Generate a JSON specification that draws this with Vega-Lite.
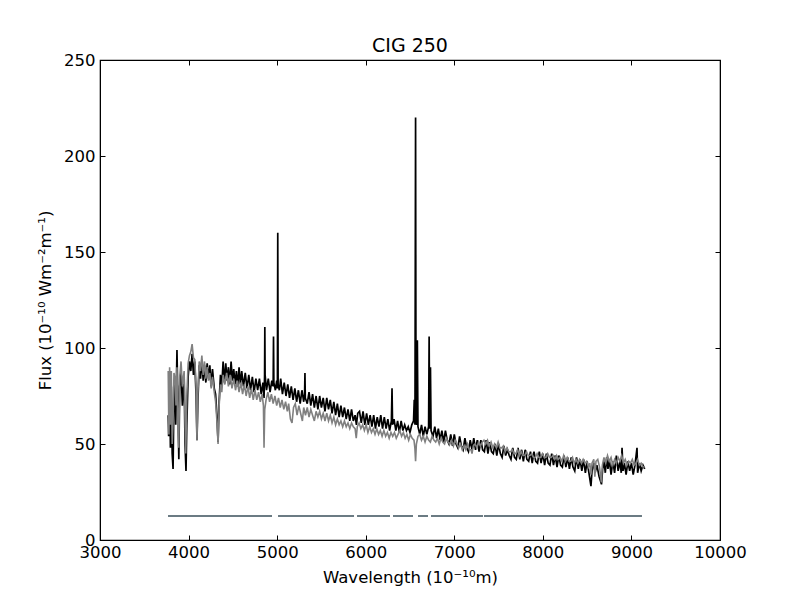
{
  "$schema": "https://vega.github.io/schema/vega-lite/v6.json",
  "width": 620,
  "height": 480,
  "autosize": {"type": "none"},
  "padding": {"left": 100, "top": 60, "right": 80, "bottom": 60},
  "background": "white",
  "title": {
    "text": "CIG 250",
    "fontSize": 19,
    "fontWeight": "normal",
    "font": "DejaVu Sans",
    "color": "black",
    "anchor": "middle",
    "offset": -4
  },
  "config": {
    "font": "DejaVu Sans",
    "view": {"stroke": "black", "strokeWidth": 1.2},
    "axis": {
      "grid": false,
      "domainColor": "black",
      "tickColor": "black",
      "labelColor": "black",
      "titleColor": "black",
      "labelFont": "DejaVu Sans",
      "titleFont": "DejaVu Sans",
      "labelFontSize": 16.5,
      "titleFontSize": 16.5,
      "titleFontWeight": "normal",
      "tickSize": -5,
      "labelFlush": false,
      "labelOverlap": false
    }
  },
  "datasets": {
    "black": [
      {"w": 3770, "f": 65}, {"w": 3775, "f": 54}, {"w": 3785, "f": 88}, {"w": 3795, "f": 48},
      {"w": 3805, "f": 80}, {"w": 3815, "f": 45}, {"w": 3825, "f": 37}, {"w": 3835, "f": 75},
      {"w": 3845, "f": 85}, {"w": 3855, "f": 60}, {"w": 3869, "f": 99}, {"w": 3880, "f": 70},
      {"w": 3890, "f": 42}, {"w": 3900, "f": 80}, {"w": 3915, "f": 88}, {"w": 3930, "f": 70},
      {"w": 3950, "f": 85}, {"w": 3960, "f": 50}, {"w": 3971, "f": 36}, {"w": 3980, "f": 60},
      {"w": 3995, "f": 85}, {"w": 4010, "f": 93}, {"w": 4025, "f": 88}, {"w": 4040, "f": 97},
      {"w": 4055, "f": 86}, {"w": 4070, "f": 93}, {"w": 4085, "f": 75}, {"w": 4095, "f": 52},
      {"w": 4105, "f": 72}, {"w": 4120, "f": 91}, {"w": 4135, "f": 84}, {"w": 4150, "f": 94},
      {"w": 4165, "f": 83}, {"w": 4180, "f": 91}, {"w": 4195, "f": 82}, {"w": 4210, "f": 92},
      {"w": 4225, "f": 84}, {"w": 4240, "f": 91}, {"w": 4255, "f": 80}, {"w": 4270, "f": 89},
      {"w": 4290, "f": 79}, {"w": 4305, "f": 76}, {"w": 4320, "f": 65}, {"w": 4333, "f": 51},
      {"w": 4345, "f": 72}, {"w": 4360, "f": 86}, {"w": 4375, "f": 80}, {"w": 4390, "f": 93},
      {"w": 4405, "f": 82}, {"w": 4420, "f": 92}, {"w": 4435, "f": 83}, {"w": 4450, "f": 90},
      {"w": 4465, "f": 81}, {"w": 4480, "f": 93}, {"w": 4495, "f": 83}, {"w": 4510, "f": 89},
      {"w": 4525, "f": 81}, {"w": 4540, "f": 88}, {"w": 4555, "f": 80}, {"w": 4570, "f": 90},
      {"w": 4585, "f": 81}, {"w": 4600, "f": 88}, {"w": 4620, "f": 80}, {"w": 4640, "f": 87},
      {"w": 4660, "f": 79}, {"w": 4680, "f": 86}, {"w": 4700, "f": 78}, {"w": 4720, "f": 85},
      {"w": 4740, "f": 77}, {"w": 4760, "f": 84}, {"w": 4780, "f": 78}, {"w": 4800, "f": 84},
      {"w": 4820, "f": 76}, {"w": 4840, "f": 82}, {"w": 4852, "f": 74}, {"w": 4858, "f": 85},
      {"w": 4861, "f": 111}, {"w": 4864, "f": 86}, {"w": 4880, "f": 78}, {"w": 4900, "f": 84},
      {"w": 4920, "f": 77}, {"w": 4940, "f": 83}, {"w": 4955, "f": 80}, {"w": 4959, "f": 106},
      {"w": 4963, "f": 82}, {"w": 4980, "f": 78}, {"w": 4995, "f": 83}, {"w": 5003, "f": 79},
      {"w": 5007, "f": 160}, {"w": 5011, "f": 81}, {"w": 5025, "f": 78}, {"w": 5040, "f": 84},
      {"w": 5060, "f": 76}, {"w": 5080, "f": 82}, {"w": 5100, "f": 75}, {"w": 5120, "f": 81},
      {"w": 5140, "f": 74}, {"w": 5160, "f": 80}, {"w": 5180, "f": 73}, {"w": 5200, "f": 79},
      {"w": 5220, "f": 72}, {"w": 5240, "f": 78}, {"w": 5260, "f": 71}, {"w": 5280, "f": 78},
      {"w": 5300, "f": 72}, {"w": 5310, "f": 76}, {"w": 5314, "f": 87}, {"w": 5318, "f": 74},
      {"w": 5340, "f": 71}, {"w": 5360, "f": 77}, {"w": 5380, "f": 70}, {"w": 5400, "f": 76},
      {"w": 5420, "f": 69}, {"w": 5440, "f": 75}, {"w": 5460, "f": 68}, {"w": 5480, "f": 75},
      {"w": 5500, "f": 69}, {"w": 5520, "f": 74}, {"w": 5540, "f": 67}, {"w": 5560, "f": 74},
      {"w": 5580, "f": 68}, {"w": 5600, "f": 73}, {"w": 5620, "f": 66}, {"w": 5640, "f": 72},
      {"w": 5660, "f": 65}, {"w": 5680, "f": 71}, {"w": 5700, "f": 64}, {"w": 5720, "f": 70},
      {"w": 5740, "f": 64}, {"w": 5760, "f": 69}, {"w": 5780, "f": 63}, {"w": 5800, "f": 68},
      {"w": 5820, "f": 62}, {"w": 5840, "f": 68}, {"w": 5860, "f": 62}, {"w": 5880, "f": 65},
      {"w": 5895, "f": 60}, {"w": 5910, "f": 66}, {"w": 5930, "f": 67}, {"w": 5950, "f": 61},
      {"w": 5970, "f": 67}, {"w": 5990, "f": 60}, {"w": 6010, "f": 66}, {"w": 6030, "f": 60},
      {"w": 6050, "f": 65}, {"w": 6070, "f": 59}, {"w": 6090, "f": 65}, {"w": 6110, "f": 58},
      {"w": 6130, "f": 64}, {"w": 6150, "f": 59}, {"w": 6170, "f": 65}, {"w": 6190, "f": 58},
      {"w": 6210, "f": 64}, {"w": 6230, "f": 58}, {"w": 6250, "f": 63}, {"w": 6270, "f": 57},
      {"w": 6290, "f": 62}, {"w": 6297, "f": 79}, {"w": 6303, "f": 60}, {"w": 6320, "f": 63},
      {"w": 6340, "f": 57}, {"w": 6360, "f": 62}, {"w": 6380, "f": 56}, {"w": 6400, "f": 62},
      {"w": 6420, "f": 57}, {"w": 6440, "f": 60}, {"w": 6460, "f": 57}, {"w": 6480, "f": 59},
      {"w": 6500, "f": 56}, {"w": 6520, "f": 60}, {"w": 6540, "f": 62}, {"w": 6548, "f": 73},
      {"w": 6556, "f": 60}, {"w": 6563, "f": 220}, {"w": 6568, "f": 62}, {"w": 6575, "f": 60},
      {"w": 6583, "f": 104}, {"w": 6590, "f": 59}, {"w": 6610, "f": 55}, {"w": 6630, "f": 60},
      {"w": 6650, "f": 54}, {"w": 6670, "f": 59}, {"w": 6690, "f": 55}, {"w": 6710, "f": 59},
      {"w": 6716, "f": 106}, {"w": 6722, "f": 58}, {"w": 6731, "f": 90}, {"w": 6738, "f": 57},
      {"w": 6760, "f": 54}, {"w": 6780, "f": 59}, {"w": 6800, "f": 53}, {"w": 6820, "f": 58},
      {"w": 6840, "f": 52}, {"w": 6860, "f": 57}, {"w": 6880, "f": 51}, {"w": 6900, "f": 57},
      {"w": 6920, "f": 52}, {"w": 6940, "f": 50}, {"w": 6960, "f": 55}, {"w": 6980, "f": 49},
      {"w": 7000, "f": 55}, {"w": 7020, "f": 50}, {"w": 7040, "f": 48}, {"w": 7060, "f": 54},
      {"w": 7080, "f": 49}, {"w": 7100, "f": 47}, {"w": 7120, "f": 53}, {"w": 7140, "f": 48},
      {"w": 7160, "f": 46}, {"w": 7180, "f": 52}, {"w": 7200, "f": 47}, {"w": 7220, "f": 53},
      {"w": 7240, "f": 47}, {"w": 7260, "f": 52}, {"w": 7280, "f": 46}, {"w": 7300, "f": 52},
      {"w": 7320, "f": 47}, {"w": 7340, "f": 46}, {"w": 7360, "f": 52}, {"w": 7380, "f": 45},
      {"w": 7400, "f": 51}, {"w": 7420, "f": 46}, {"w": 7440, "f": 45}, {"w": 7460, "f": 50},
      {"w": 7480, "f": 44}, {"w": 7500, "f": 50}, {"w": 7520, "f": 45}, {"w": 7540, "f": 43},
      {"w": 7560, "f": 49}, {"w": 7580, "f": 44}, {"w": 7600, "f": 47}, {"w": 7620, "f": 44},
      {"w": 7640, "f": 42}, {"w": 7660, "f": 48}, {"w": 7680, "f": 43}, {"w": 7700, "f": 42},
      {"w": 7720, "f": 48}, {"w": 7740, "f": 42}, {"w": 7760, "f": 47}, {"w": 7780, "f": 41},
      {"w": 7800, "f": 47}, {"w": 7820, "f": 42}, {"w": 7840, "f": 41}, {"w": 7860, "f": 46},
      {"w": 7880, "f": 40}, {"w": 7900, "f": 46}, {"w": 7920, "f": 41}, {"w": 7940, "f": 40},
      {"w": 7960, "f": 46}, {"w": 7980, "f": 40}, {"w": 8000, "f": 45}, {"w": 8020, "f": 39},
      {"w": 8040, "f": 45}, {"w": 8060, "f": 40}, {"w": 8080, "f": 39}, {"w": 8100, "f": 45},
      {"w": 8120, "f": 39}, {"w": 8140, "f": 44}, {"w": 8160, "f": 38}, {"w": 8180, "f": 44},
      {"w": 8200, "f": 39}, {"w": 8220, "f": 38}, {"w": 8240, "f": 44}, {"w": 8260, "f": 38},
      {"w": 8280, "f": 43}, {"w": 8300, "f": 37}, {"w": 8320, "f": 43}, {"w": 8340, "f": 38},
      {"w": 8360, "f": 36}, {"w": 8380, "f": 43}, {"w": 8400, "f": 37}, {"w": 8420, "f": 42},
      {"w": 8440, "f": 36}, {"w": 8460, "f": 42}, {"w": 8480, "f": 35}, {"w": 8500, "f": 41},
      {"w": 8520, "f": 35}, {"w": 8543, "f": 28}, {"w": 8555, "f": 36}, {"w": 8575, "f": 40},
      {"w": 8590, "f": 35}, {"w": 8610, "f": 39}, {"w": 8635, "f": 33}, {"w": 8662, "f": 29},
      {"w": 8675, "f": 37}, {"w": 8690, "f": 41}, {"w": 8705, "f": 35}, {"w": 8720, "f": 43},
      {"w": 8735, "f": 37}, {"w": 8750, "f": 42}, {"w": 8770, "f": 34}, {"w": 8790, "f": 41},
      {"w": 8810, "f": 35}, {"w": 8830, "f": 44}, {"w": 8850, "f": 36}, {"w": 8870, "f": 41},
      {"w": 8885, "f": 35}, {"w": 8894, "f": 48}, {"w": 8905, "f": 36}, {"w": 8920, "f": 40},
      {"w": 8940, "f": 34}, {"w": 8960, "f": 41}, {"w": 8980, "f": 36}, {"w": 9000, "f": 40},
      {"w": 9020, "f": 34}, {"w": 9040, "f": 39}, {"w": 9063, "f": 48}, {"w": 9070, "f": 35},
      {"w": 9090, "f": 40}, {"w": 9110, "f": 36}, {"w": 9130, "f": 39}, {"w": 9150, "f": 37}
    ],
    "gray": [
      {"w": 3770, "f": 88}, {"w": 3778, "f": 55}, {"w": 3786, "f": 90}, {"w": 3795, "f": 60},
      {"w": 3805, "f": 88}, {"w": 3815, "f": 50}, {"w": 3825, "f": 62}, {"w": 3835, "f": 87},
      {"w": 3848, "f": 85}, {"w": 3858, "f": 70}, {"w": 3869, "f": 90}, {"w": 3880, "f": 60},
      {"w": 3889, "f": 48}, {"w": 3900, "f": 85}, {"w": 3915, "f": 93}, {"w": 3930, "f": 80},
      {"w": 3950, "f": 88}, {"w": 3960, "f": 62}, {"w": 3968, "f": 45}, {"w": 3980, "f": 75},
      {"w": 3995, "f": 92}, {"w": 4010, "f": 96}, {"w": 4025, "f": 98}, {"w": 4040, "f": 102},
      {"w": 4055, "f": 95}, {"w": 4070, "f": 94}, {"w": 4085, "f": 80}, {"w": 4095, "f": 52},
      {"w": 4105, "f": 76}, {"w": 4120, "f": 93}, {"w": 4135, "f": 88}, {"w": 4150, "f": 96},
      {"w": 4165, "f": 86}, {"w": 4180, "f": 93}, {"w": 4195, "f": 84}, {"w": 4210, "f": 90},
      {"w": 4225, "f": 83}, {"w": 4240, "f": 87}, {"w": 4255, "f": 79}, {"w": 4270, "f": 85},
      {"w": 4290, "f": 77}, {"w": 4305, "f": 72}, {"w": 4320, "f": 62}, {"w": 4333, "f": 50},
      {"w": 4345, "f": 70}, {"w": 4360, "f": 81}, {"w": 4375, "f": 77}, {"w": 4390, "f": 86},
      {"w": 4410, "f": 81}, {"w": 4430, "f": 87}, {"w": 4450, "f": 80}, {"w": 4470, "f": 86},
      {"w": 4490, "f": 79}, {"w": 4510, "f": 84}, {"w": 4530, "f": 78}, {"w": 4550, "f": 83},
      {"w": 4570, "f": 77}, {"w": 4590, "f": 82}, {"w": 4610, "f": 76}, {"w": 4630, "f": 81},
      {"w": 4650, "f": 75}, {"w": 4670, "f": 80}, {"w": 4690, "f": 74}, {"w": 4710, "f": 79},
      {"w": 4730, "f": 73}, {"w": 4750, "f": 78}, {"w": 4770, "f": 73}, {"w": 4790, "f": 77},
      {"w": 4810, "f": 72}, {"w": 4830, "f": 76}, {"w": 4845, "f": 70}, {"w": 4852, "f": 48},
      {"w": 4860, "f": 68}, {"w": 4875, "f": 73}, {"w": 4895, "f": 77}, {"w": 4915, "f": 72},
      {"w": 4935, "f": 76}, {"w": 4955, "f": 71}, {"w": 4975, "f": 75}, {"w": 4995, "f": 70},
      {"w": 5015, "f": 74}, {"w": 5035, "f": 69}, {"w": 5055, "f": 73}, {"w": 5075, "f": 68},
      {"w": 5095, "f": 72}, {"w": 5115, "f": 67}, {"w": 5130, "f": 71}, {"w": 5150, "f": 63},
      {"w": 5168, "f": 61}, {"w": 5185, "f": 69}, {"w": 5205, "f": 71}, {"w": 5225, "f": 65},
      {"w": 5245, "f": 70}, {"w": 5265, "f": 66}, {"w": 5285, "f": 62}, {"w": 5300, "f": 69},
      {"w": 5320, "f": 65}, {"w": 5340, "f": 69}, {"w": 5360, "f": 64}, {"w": 5380, "f": 68},
      {"w": 5400, "f": 65}, {"w": 5420, "f": 62}, {"w": 5440, "f": 67}, {"w": 5460, "f": 64},
      {"w": 5480, "f": 67}, {"w": 5500, "f": 63}, {"w": 5520, "f": 66}, {"w": 5540, "f": 62},
      {"w": 5560, "f": 66}, {"w": 5580, "f": 62}, {"w": 5600, "f": 65}, {"w": 5620, "f": 61},
      {"w": 5640, "f": 64}, {"w": 5660, "f": 60}, {"w": 5680, "f": 63}, {"w": 5700, "f": 60},
      {"w": 5720, "f": 62}, {"w": 5740, "f": 59}, {"w": 5760, "f": 62}, {"w": 5780, "f": 59},
      {"w": 5800, "f": 61}, {"w": 5820, "f": 58}, {"w": 5840, "f": 61}, {"w": 5860, "f": 59},
      {"w": 5880, "f": 58}, {"w": 5893, "f": 53}, {"w": 5905, "f": 59}, {"w": 5925, "f": 61},
      {"w": 5945, "f": 58}, {"w": 5965, "f": 60}, {"w": 5985, "f": 57}, {"w": 6005, "f": 60},
      {"w": 6025, "f": 56}, {"w": 6045, "f": 59}, {"w": 6065, "f": 56}, {"w": 6085, "f": 58},
      {"w": 6105, "f": 55}, {"w": 6125, "f": 58}, {"w": 6145, "f": 55}, {"w": 6165, "f": 57},
      {"w": 6185, "f": 54}, {"w": 6205, "f": 57}, {"w": 6225, "f": 54}, {"w": 6245, "f": 56},
      {"w": 6265, "f": 53}, {"w": 6285, "f": 56}, {"w": 6305, "f": 54}, {"w": 6325, "f": 56},
      {"w": 6345, "f": 53}, {"w": 6365, "f": 55}, {"w": 6385, "f": 57}, {"w": 6405, "f": 54},
      {"w": 6425, "f": 56}, {"w": 6445, "f": 53}, {"w": 6465, "f": 55}, {"w": 6485, "f": 52},
      {"w": 6505, "f": 55}, {"w": 6525, "f": 53}, {"w": 6545, "f": 52}, {"w": 6555, "f": 48},
      {"w": 6563, "f": 41}, {"w": 6572, "f": 50}, {"w": 6590, "f": 54}, {"w": 6610, "f": 55},
      {"w": 6630, "f": 52}, {"w": 6650, "f": 54}, {"w": 6670, "f": 51}, {"w": 6690, "f": 54},
      {"w": 6710, "f": 52}, {"w": 6730, "f": 51}, {"w": 6750, "f": 54}, {"w": 6770, "f": 52},
      {"w": 6790, "f": 51}, {"w": 6810, "f": 53}, {"w": 6830, "f": 50}, {"w": 6850, "f": 53},
      {"w": 6870, "f": 51}, {"w": 6890, "f": 50}, {"w": 6910, "f": 53}, {"w": 6930, "f": 51},
      {"w": 6950, "f": 50}, {"w": 6970, "f": 52}, {"w": 6990, "f": 49}, {"w": 7010, "f": 52},
      {"w": 7030, "f": 50}, {"w": 7050, "f": 48}, {"w": 7070, "f": 50}, {"w": 7090, "f": 47},
      {"w": 7110, "f": 49}, {"w": 7130, "f": 47}, {"w": 7150, "f": 50}, {"w": 7170, "f": 47},
      {"w": 7190, "f": 47}, {"w": 7200, "f": 45}, {"w": 7215, "f": 49}, {"w": 7235, "f": 50},
      {"w": 7255, "f": 48}, {"w": 7275, "f": 51}, {"w": 7295, "f": 49}, {"w": 7315, "f": 51},
      {"w": 7335, "f": 52}, {"w": 7355, "f": 50}, {"w": 7375, "f": 52}, {"w": 7395, "f": 49},
      {"w": 7415, "f": 51}, {"w": 7435, "f": 48}, {"w": 7455, "f": 50}, {"w": 7475, "f": 48},
      {"w": 7495, "f": 51}, {"w": 7515, "f": 48}, {"w": 7535, "f": 48}, {"w": 7555, "f": 49},
      {"w": 7575, "f": 46}, {"w": 7595, "f": 48}, {"w": 7615, "f": 46}, {"w": 7635, "f": 46},
      {"w": 7655, "f": 47}, {"w": 7675, "f": 45}, {"w": 7695, "f": 45}, {"w": 7715, "f": 47},
      {"w": 7735, "f": 44}, {"w": 7755, "f": 46}, {"w": 7775, "f": 44}, {"w": 7795, "f": 44},
      {"w": 7815, "f": 46}, {"w": 7835, "f": 44}, {"w": 7855, "f": 44}, {"w": 7875, "f": 45},
      {"w": 7895, "f": 43}, {"w": 7915, "f": 43}, {"w": 7935, "f": 45}, {"w": 7955, "f": 43},
      {"w": 7975, "f": 43}, {"w": 7995, "f": 45}, {"w": 8015, "f": 43}, {"w": 8035, "f": 43},
      {"w": 8055, "f": 45}, {"w": 8075, "f": 43}, {"w": 8095, "f": 43}, {"w": 8115, "f": 44},
      {"w": 8135, "f": 42}, {"w": 8155, "f": 44}, {"w": 8175, "f": 42}, {"w": 8195, "f": 43},
      {"w": 8215, "f": 41}, {"w": 8235, "f": 44}, {"w": 8255, "f": 41}, {"w": 8275, "f": 43},
      {"w": 8295, "f": 41}, {"w": 8315, "f": 41}, {"w": 8335, "f": 43}, {"w": 8355, "f": 40},
      {"w": 8375, "f": 42}, {"w": 8395, "f": 40}, {"w": 8415, "f": 42}, {"w": 8435, "f": 40},
      {"w": 8455, "f": 42}, {"w": 8475, "f": 40}, {"w": 8495, "f": 41}, {"w": 8515, "f": 38},
      {"w": 8530, "f": 40}, {"w": 8543, "f": 34}, {"w": 8555, "f": 40}, {"w": 8575, "f": 42},
      {"w": 8587, "f": 33}, {"w": 8600, "f": 41}, {"w": 8620, "f": 42}, {"w": 8640, "f": 38},
      {"w": 8660, "f": 30}, {"w": 8672, "f": 39}, {"w": 8690, "f": 43}, {"w": 8710, "f": 40},
      {"w": 8730, "f": 44}, {"w": 8750, "f": 41}, {"w": 8770, "f": 43}, {"w": 8790, "f": 39},
      {"w": 8810, "f": 42}, {"w": 8830, "f": 40}, {"w": 8850, "f": 43}, {"w": 8870, "f": 41},
      {"w": 8890, "f": 44}, {"w": 8910, "f": 40}, {"w": 8930, "f": 42}, {"w": 8950, "f": 39},
      {"w": 8970, "f": 41}, {"w": 8990, "f": 40}, {"w": 9010, "f": 42}, {"w": 9030, "f": 39},
      {"w": 9050, "f": 40}, {"w": 9070, "f": 42}, {"w": 9090, "f": 39}, {"w": 9110, "f": 40},
      {"w": 9130, "f": 38}, {"w": 9150, "f": 38}
    ],
    "segments": [
      {"a": 3768, "b": 4942, "y": 12.5}, {"a": 5010, "b": 5868, "y": 12.5},
      {"a": 5902, "b": 6274, "y": 12.5}, {"a": 6308, "b": 6534, "y": 12.5},
      {"a": 6590, "b": 6703, "y": 12.5}, {"a": 6737, "b": 7324, "y": 12.5},
      {"a": 7335, "b": 9119, "y": 12.5}
    ]
  },
  "layer": [
    {
      "data": {"name": "black"},
      "mark": {"type": "line", "color": "black", "strokeWidth": 1.7, "clip": true},
      "encoding": {
        "x": {
          "field": "w", "type": "quantitative",
          "scale": {"domain": [3000, 10000], "nice": false, "zero": false},
          "axis": {"values": [3000, 4000, 5000, 6000, 7000, 8000, 9000, 10000], "title": "Wavelength (10⁻¹⁰m)", "labelPadding": 9, "titlePadding": 9, "format": "d"}
        },
        "y": {
          "field": "f", "type": "quantitative",
          "scale": {"domain": [0, 250], "nice": false},
          "axis": {"values": [0, 50, 100, 150, 200, 250], "title": "Flux (10⁻¹⁰ Wm⁻²m⁻¹)", "labelPadding": 10, "titlePadding": 10, "format": "d"}
        }
      }
    },
    {
      "data": {"name": "gray"},
      "mark": {"type": "line", "color": "#808080", "strokeWidth": 1.6, "clip": true},
      "encoding": {
        "x": {
          "field": "w", "type": "quantitative",
          "axis": {"orient": "top", "values": [3000, 4000, 5000, 6000, 7000, 8000, 9000, 10000], "labels": false, "title": null}
        },
        "y": {
          "field": "f", "type": "quantitative",
          "axis": {"orient": "right", "values": [0, 50, 100, 150, 200, 250], "labels": false, "title": null}
        }
      }
    },
    {
      "data": {"name": "segments"},
      "mark": {"type": "rule", "color": "#6b7b83", "strokeWidth": 2},
      "encoding": {
        "x": {"field": "a", "type": "quantitative", "axis": null},
        "x2": {"field": "b"},
        "y": {"field": "y", "type": "quantitative", "axis": null}
      }
    }
  ],
  "resolve": {"axis": {"x": "independent", "y": "independent"}}
}
